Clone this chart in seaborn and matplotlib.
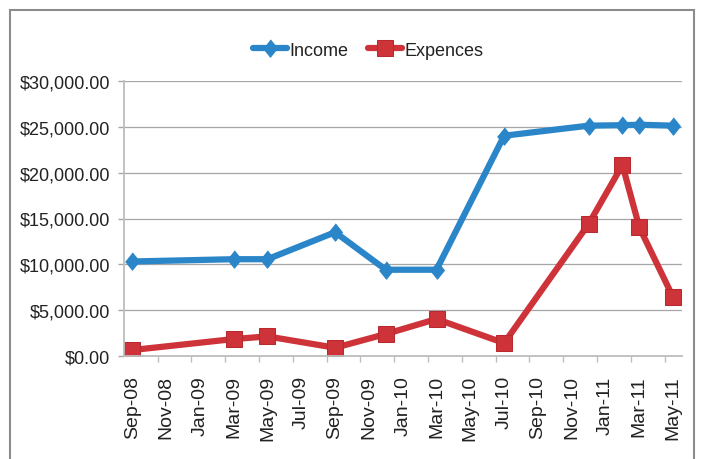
import matplotlib
matplotlib.use("Agg")
import matplotlib.pyplot as plt
from matplotlib.patches import Rectangle
from matplotlib.ticker import FuncFormatter, FixedLocator
import seaborn as sns
import pandas as pd

# ---- data ----
dates = ["2008-09", "2009-03", "2009-05", "2009-09", "2009-12", "2010-03",
         "2010-07", "2010-12", "2011-02", "2011-03", "2011-05"]
income = [10300, 10550, 10550, 13500, 9400, 9400, 24050, 25150, 25200, 25250, 25150]
expences = [620, 1820, 2110, 870, 2370, 4010, 1380, 14400, 20850, 14030, 6380]
tick_labels = ["Sep-08", "Nov-08", "Jan-09", "Mar-09", "May-09", "Jul-09",
               "Sep-09", "Nov-09", "Jan-10", "Mar-10", "May-10", "Jul-10",
               "Sep-10", "Nov-10", "Jan-11", "Mar-11", "May-11"]
start = "2008-09"

sns.set_theme(style="white")
FAM = ["Liberation Sans Narrow", "Liberation Sans", "DejaVu Sans"]
plt.rcParams["font.family"] = FAM

d = pd.to_datetime(dates)
s = pd.Timestamp(start)
month_idx = [(x.year - s.year) * 12 + (x.month - s.month) for x in d]
df = pd.DataFrame({"m": month_idx, "Income": income, "Expences": expences})

fig = plt.figure(figsize=(7.02, 4.60), dpi=100)
ax = fig.add_axes([123.8 / 702, 1 - 356.7 / 460, (681.6 - 123.8) / 702, (356.7 - 82.3) / 460])

blue = "#2A86C8"
red = "#CE3339"
diamond = [(0, 1), (0.8, 0), (0, -1), (-0.8, 0)]

sns.lineplot(data=df, x="m", y="Income", ax=ax, color=blue, lw=4.5,
             marker=diamond, markersize=12.5, markeredgecolor=blue,
             markerfacecolor=blue, label="Income", legend=False)
sns.lineplot(data=df, x="m", y="Expences", ax=ax, color=red, lw=4.5,
             marker="s", markersize=11.5, markeredgecolor="#B82A30",
             markerfacecolor=red, label="Expences", legend=False)

ax.set_xlim(-0.5, 32.5)
ax.set_ylim(0, 30000)
ax.set_yticks(range(0, 30001, 5000))
ax.yaxis.set_major_formatter(FuncFormatter(lambda v, p: f"${v:,.2f}"))
ax.set_xticks(range(0, 33, 2))
ax.set_xticklabels(tick_labels, rotation=90, fontsize=14)
ax.xaxis.set_minor_locator(FixedLocator([i + 1.5 for i in range(0, 31, 2)]))
ax.set_xlabel("")
ax.set_ylabel("")

ax.grid(axis="y", color="#A6A6A6", lw=0.9)
ax.set_axisbelow(True)
for sp in ["top", "right"]:
    ax.spines[sp].set_visible(False)
for sp in ["left", "bottom"]:
    ax.spines[sp].set_color("#BDBDBD")
    ax.spines[sp].set_linewidth(1.3)

ax.tick_params(axis="y", which="major", left=True, length=4, width=1, color="#A6A6A6",
               pad=6, labelsize=13, labelcolor="#222222")
ax.tick_params(axis="x", which="major", bottom=False, length=0, pad=14, labelcolor="#222222")
ax.tick_params(axis="x", which="minor", bottom=True, length=4.5, width=1, color="#BDBDBD")

handles, labels = ax.get_legend_handles_labels()
fig.legend(handles, labels, loc="center", bbox_to_anchor=(368 / 702, 1 - 51 / 460),
           ncol=2, frameon=False, fontsize=13, handlelength=1.9, handletextpad=0.1,
           columnspacing=1.1, labelcolor="#222222")

fig.patches.append(Rectangle((10 / 702, -0.05), (694 - 10) / 702, (460 - 11) / 460 + 0.05,
                             fill=False, ec="#8C8C8C", lw=1.5, transform=fig.transFigure,
                             figure=fig, clip_on=False))

fig.savefig("out.png", dpi=100, facecolor="white")
